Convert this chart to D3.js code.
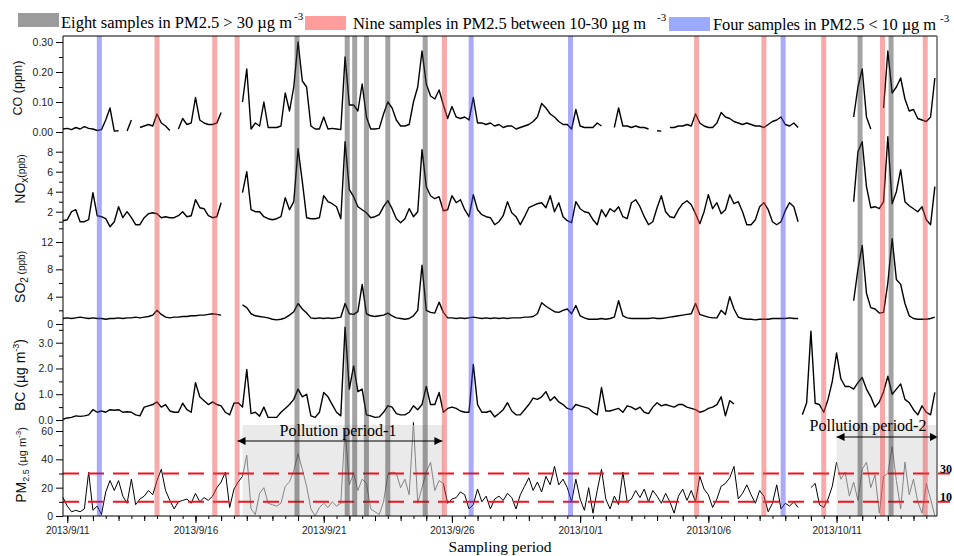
<!DOCTYPE html>
<html>
<head>
<meta charset="utf-8">
<script src="https://cdn.jsdelivr.net/npm/d3@7"></script>
<style>
  body { margin: 0; background: #fff; }
  svg { display: block; }
</style>
</head>
<body>
<svg id="chart" width="954" height="556"></svg>
<script>
// series sampled every 4 hours, starting 2013/9/10 20:00 (null = no data)
const startTime = new Date(2013, 8, 10, 20)
const stepHours = 4

const coValues = [
  0.01, 0.012, 0.008, 0.015, 0.01, 0.018, 0.012, 0.01, 0.005, 0.008,
  0.04, 0.08, 0.003, 0.004, null, 0.003, 0.04, null, 0.015, 0.02,
  0.025, 0.02, 0.06, 0.03, 0.02, 0.005, null, 0.01, 0.045, 0.025,
  0.03, 0.115, 0.04, 0.03, 0.025, 0.025, 0.03, 0.065, null, null,
  null, null, 0.1, 0.21, 0.01, 0.03, 0.02, 0.1, 0.015, 0.015,
  0.015, 0.02, 0.13, 0.07, 0.15, 0.3, 0.17, 0.15, 0.02, 0.01,
  0.01, 0.05, 0.01, 0.012, 0.01, 0.008, 0.25, 0.09, 0.09, 0.07,
  0.16, 0.05, 0.01, 0.01, 0.012, 0.06, 0.1, 0.08, 0.04, 0.02,
  0.02, 0.025, 0.1, 0.15, 0.27, 0.16, 0.12, 0.11, 0.14, 0.09,
  0.045, 0.085, 0.05, 0.045, 0.05, 0.04, 0.115, 0.03, 0.03, 0.025,
  0.03, 0.02, 0.025, 0.015, 0.02, 0.02, 0.01, 0.015, 0.02, 0.025,
  0.035, 0.05, 0.095, 0.08, 0.06, 0.05, 0.035, 0.025, 0.025, 0.01,
  0.075, 0.02, 0.015, 0.015, 0.015, 0.03, 0.02, null, null, 0.015,
  0.08, 0.02, 0.02, 0.015, 0.02, 0.015, 0.015, 0.01, null, 0.004,
  0.003, null, 0.015, 0.015, 0.02, 0.02, 0.025, 0.02, 0.06, 0.03,
  0.02, 0.015, 0.015, 0.03, 0.065, 0.05, 0.045, 0.035, 0.03, 0.025,
  0.03, 0.025, 0.02, 0.02, 0.015, 0.025, 0.035, 0.04, 0.05, 0.025,
  0.02, 0.03, 0.015, null, null, null, null, null, null, null,
  null, null, null, null, null, 0.05, 0.15, 0.21, 0.05, 0.01,
  null, null, 0.08, 0.27, 0.13, 0.15, 0.18, 0.11, 0.07, 0.075,
  0.045, 0.04, 0.035, 0.05, 0.18
]

const noxValues = [
  1.1, 1.2, 2.0, 2.2, 1.0, 1.0, 1.2, 3.9, 1.6, 1.5,
  1.3, 0.5, 1.0, 2.5, 1.4, 2.0, 1.4, 0.7, 0.7, 1.4,
  1.8, 1.9, 1.8, 1.4, 1.5, 1.4, 1.4, 1.6, 2.0, 1.5,
  1.6, 3.2, 2.4, 2.3, 1.6, 1.4, 1.5, 2.9, null, null,
  null, null, 3.9, 6.0, 2.2, 2.0, 2.0, 1.5, 1.3, 1.2,
  1.3, 1.5, 3.4, 2.2, 3.0, 8.3, 5.0, 1.4, 1.3, 1.3,
  1.4, 3.6, 3.0, 2.8, 2.5, 1.3, 9.0, 4.2, 3.5, 2.5,
  2.2, 1.9, 1.4, 1.5, 1.7, 2.5, 3.1, 2.3, 1.3, 0.9,
  1.3, 2.3, 1.5, 2.0, 8.2, 4.5, 3.6, 3.3, 3.5, 2.1,
  2.2, 3.6, 2.9, 3.2, 2.2, 1.5, 3.7, 2.2, 1.7, 1.5,
  1.4, 0.7, 1.0, 1.6, 3.0, 1.9, 1.5, 0.7, 1.5, 2.4,
  2.6, 2.8, 2.9, 2.4, 3.6, 2.0, 2.9, 1.5, 1.1, 0.9,
  3.0, 2.3, 2.0, 1.9, 1.2, 0.7, 2.2, 1.5, 2.3, 2.0,
  2.5, 1.5, 1.3, 2.9, 3.2, 2.5, 1.5, 0.7, 1.0, 2.4,
  3.6, 2.0, 1.5, 1.4, 2.2, 2.8, 3.1, 2.7, 1.8, 0.8,
  2.0, 3.7, 2.3, 2.9, 1.8, 2.2, 3.7, 2.8, 3.0, 2.0,
  0.7, 0.7, 1.2, 2.5, 2.9, 2.2, 1.0, 0.7, 1.0, 2.1,
  2.9, 2.5, 1.0, null, null, null, null, null, null, null,
  null, null, null, null, null, 3.0, 8.0, 9.0, 4.5, 2.4,
  2.5, 2.3, 3.0, 9.5, 2.8, 4.0, 6.2, 3.0, 2.6, 2.3,
  2.0, 2.5, 1.2, 0.7, 4.5
]

const so2Values = [
  0.8, 0.9, 0.8, 0.9, 1.0, 0.9, 0.8, 0.9, 0.8, 0.8,
  0.7, 0.8, 0.8, 0.9, 0.8, 0.9, 0.9, 1.0, 0.9, 1.0,
  1.1, 1.3, 2.0, 1.4, 1.0, 0.9, 1.0, 1.0, 1.1, 1.1,
  1.2, 1.2, 1.3, 1.3, 1.4, 1.5, 1.4, 1.3, null, null,
  null, null, 2.8, 2.4, 1.5, 1.2, 1.1, 1.0, 0.9, 0.7,
  0.6, 0.7, 0.9, 1.3, 1.8, 3.0, 2.2, 1.6, 0.9, 0.8,
  0.9, 0.8, 0.9, 0.8, 0.9, 1.0, 3.0, 1.5, 1.4, 1.8,
  5.8, 1.5, 1.2, 1.1, 1.2, 1.3, 1.6, 1.2, 0.9, 0.8,
  0.7, 0.8, 1.2, 2.0, 8.6, 2.0, 1.7, 1.6, 3.2, 1.7,
  0.9, 0.9, 0.8, 0.9, 0.8, 0.9, 1.0, 0.9, 0.8, 0.9,
  0.8, 0.9, 0.8, 0.9, 0.8, 0.9, 0.9, 0.9, 1.0, 1.0,
  1.1, 1.5, 3.1, 2.6, 2.2, 1.8, 1.7, 2.0, 2.2, 1.5,
  2.7, 1.2, 0.9, 0.7, 0.7, 0.7, 0.8, 0.7, 0.8, 1.0,
  3.4, 1.2, 0.9, 0.8, 0.8, 0.8, 0.8, 0.8, 0.9, 0.8,
  0.8, 0.9, 1.0, 1.1, 1.2, 1.3, 1.4, 1.5, 3.0, 1.4,
  1.2, 1.0, 0.9, 0.9, 2.0, 1.4, 4.0, 2.2, 1.0, 0.8,
  0.7, 0.7, 0.6, 0.7, 0.7, 0.7, 0.8, 0.8, 0.8, 0.8,
  0.9, 0.8, 0.8, null, null, null, null, null, null, null,
  null, null, null, null, null, 3.4, 8.0, 11.5, 4.5, 2.4,
  2.2, 1.6, 1.7, 6.0, 12.5, 6.5, 5.8, 3.0, 1.2, 0.8,
  0.7, 0.7, 0.7, 0.8, 1.0
]

const bcValues = [
  0.03, 0.08, 0.1, 0.16, 0.14, 0.16, 0.2, 0.4, 0.3, 0.35,
  0.3, 0.4, 0.38, 0.4, 0.3, 0.32, 0.3, 0.2, 0.16, 0.5,
  0.55, 0.6, 0.7, 0.5, 0.6, 0.35, 0.3, 0.3, 0.65, 0.4,
  0.3, 1.45, 0.9, 0.75, 0.6, 0.7, 0.6, 0.55, 0.3, 0.2,
  0.65, 0.67, 0.5, 1.96, 0.25, 0.3, 0.15, 0.5, 0.1, 0.1,
  0.1, 0.3, 0.45, 0.6, 0.8, 1.2, 0.9, 1.0, 0.16, 0.1,
  0.3, 1.07, 0.9, 0.6, 0.3, 0.16, 3.6, 1.2, 2.1, 1.1,
  1.2, 0.2, 0.16, 0.1, 0.12, 0.3, 0.55, 0.5, 0.25, 0.2,
  0.2, 0.3, 0.55, 0.4, 0.6, 1.3, 0.6, 0.6, 1.07, 0.3,
  0.45, 0.5, 0.45, 0.35, 0.3, 0.3, 2.16, 0.6, 0.3, 0.3,
  0.35, 0.12, 0.25, 0.4, 0.67, 0.35, 0.2, 0.2, 0.4, 0.6,
  0.85, 0.8, 0.9, 1.1, 0.75, 0.9, 0.7, 0.6, 0.45, 0.4,
  0.6, 0.55, 0.5, 0.45, 0.3, 0.2, 1.26, 0.35, 0.35, 0.4,
  0.45, 0.3, 0.55, 0.5, 0.4, 0.5, 0.3, 0.25, 0.5, 0.67,
  0.55, 0.6, 0.55, 0.5, 0.6, 0.6, 0.5, 0.45, 0.4, 0.3,
  0.35, 0.45, 0.5, 0.6, 0.9, 0.16, 0.75, 0.62, null, null,
  null, null, null, null, null, null, null, null, null, null,
  null, null, null, 0.2, 0.67, 3.45, 0.65, 0.6, 0.3, 0.8,
  1.5, 2.6, 1.6, 1.3, 1.3, 1.2, 1.45, 1.65, 1.2, 0.9,
  0.5, 0.7, 1.1, 1.7, 1.0, 1.2, 1.4, 0.8, 0.67, 0.4,
  0.2, 0.55, 0.3, 0.2, 1.07
]

const pmValues = [
  13, 7, 3, 4, 3, 5, 31, 4, 7, 1,
  17, 25, 18, 25, 14, 9, 26, 8, 12, 14,
  18, 15, 25, 33, 18, 11, 5, 10, 11, 12,
  9, 16, 10, 13, 11, 14, 20, 24, 31, 6,
  19, 24, 28, 43, 5, 1, 16, 20, 9, 8,
  7, 9, 21, 24, 32, 44, 33, 21, 5, 0,
  6, 9, 6, 10, 7, 9, 62, 22, 30, 18,
  26, 23, 5, 3, 1, 10, 29, 31, 30, 20,
  26, 15, 66, 9, 20, 31, 38, 18, 25, 23,
  9, 12, 13, 17, 15, 5, 8, 19, 10, 14,
  5, 12, 14, 11, 16, 13, 5, 15, 21, 27,
  18, 24, 17, 28, 22, 35, 22, 26, 20, 10,
  26, 12, 4, 20, 2, 18, 33, 12, 5, 14,
  8, 31, 10, 12, 18, 13, 19, 10, 18, 14,
  9, 16, 10, 2, 14, 19, 11, 18, 10, 28,
  19, 15, 6, 12, 21, 23, 27, 35, 12, 16,
  22, 15, 9, 18, 14, 3, 9, 22, 5, 9,
  7, 10, 6, null, null, 20, 23, 8, 6, 12,
  21, 38, 26, 31, 14, 24, 11, 33, 38, 20,
  29, 2, 28, 30, 49, 25, 5, 38, 15, 26,
  10, 2, 23, 12, 0
]

// highlighted sample times
const graySamples = ['2013-09-19T23:00', '2013-09-21T22:00', '2013-09-22T05:00', '2013-09-22T16:00',
  '2013-09-23T12:00', '2013-09-24T23:00', '2013-10-11T22:00', '2013-10-13T03:00']
const pinkSamples = ['2013-09-14T12:00', '2013-09-16T18:00', '2013-09-17T15:00', '2013-09-25T17:00',
  '2013-10-05T13:00', '2013-10-08T04:00', '2013-10-10T12:00', '2013-10-12T19:00', '2013-10-14T11:00']
const blueSamples = ['2013-09-12T06:00', '2013-09-26T18:00', '2013-09-30T15:00', '2013-10-08T22:00']

const periodNames = ['Pollution period-1', 'Pollution period-2']
const periodStarts = ['2013-09-17T20:00', '2013-10-11T00:00']
const periodEnds = ['2013-09-25T16:00', '2013-10-14T22:00']

const pmThresholds = [30, 10]
const xLabelDates = ['2013-09-11', '2013-09-16', '2013-09-21', '2013-09-26', '2013-10-01', '2013-10-06', '2013-10-11']

const parseTime = d3.timeParse('%Y-%m-%dT%H:%M')
const parseDay = d3.timeParse('%Y-%m-%d')

const sans = "'Liberation Sans', Arial, sans-serif"
const serif = "'Liberation Serif', 'Times New Roman', serif"

const svg = d3.select('#chart')
const plotLeft = 63, plotRight = 937, plotTop = 36, plotBottom = 516

const x = d3.scaleTime()
  .domain([new Date(2013, 8, 10, 20), new Date(2013, 9, 14, 22)])
  .range([plotLeft, plotRight])

const times = coValues.map((d, i) => d3.timeHour.offset(startTime, i * stepHours))

// one panel per species, stacked on the shared time axis
const panels = [
  {values: coValues, y: d3.scaleLinear().domain([0, 0.3]).range([132, 42]),
   major: [0, 0.1, 0.2, 0.3], minor: [0.05, 0.15, 0.25], fmt: d3.format('.2f')},
  {values: noxValues, y: d3.scaleLinear().domain([0, 8]).range([231.7, 151.7]),
   major: [2, 4, 6, 8], minor: [1, 3, 5, 7], fmt: d3.format('d')},
  {values: so2Values, y: d3.scaleLinear().domain([0, 12]).range([324, 242]),
   major: [0, 4, 8, 12], minor: [2, 6, 10, 14], fmt: d3.format('d')},
  {values: bcValues, y: d3.scaleLinear().domain([0, 3]).range([420, 342.7]),
   major: [0, 1, 2, 3], minor: [0.5, 1.5, 2.5, 3.5], fmt: d3.format('.1f')},
  {values: pmValues, y: d3.scaleLinear().domain([0, 60]).range([516, 431]),
   major: [0, 20, 40, 60], minor: [10, 30, 50], fmt: d3.format('d'), thin: true}
]

// series lines
panels.forEach(p => {
  const line = d3.line()
    .defined(d => d != null)
    .x((d, i) => x(times[i]))
    .y(d => p.y(d))
  svg.append('path')
    .datum(p.values)
    .attr('fill', 'none')
    .attr('stroke', '#000')
    .attr('stroke-width', p.thin ? 1 : 1.4)
    .attr('stroke-linejoin', 'round')
    .attr('d', line)
})

const pmY = panels[4].y

// pollution period shading, laid over the PM line so it greys it out
periodNames.forEach((name, i) => {
  const x0 = x(parseTime(periodStarts[i])), x1 = x(parseTime(periodEnds[i]))
  svg.append('rect')
    .attr('x', x0).attr('y', 425)
    .attr('width', x1 - x0).attr('height', plotBottom - 425)
    .attr('fill', '#dcdcdc')
    .attr('fill-opacity', 0.6)
})

// threshold lines
svg.selectAll('.threshold')
  .data(pmThresholds)
  .enter().append('line')
  .attr('class', 'threshold')
  .attr('x1', plotLeft).attr('x2', 950)
  .attr('y1', d => pmY(d)).attr('y2', d => pmY(d))
  .attr('stroke', '#f0141e')
  .attr('stroke-width', 2)
  .attr('stroke-dasharray', '16,9')

svg.selectAll('.threshold-label')
  .data(pmThresholds)
  .enter().append('text')
  .attr('x', 940)
  .attr('y', d => pmY(d) - 1)
  .attr('font-family', serif)
  .attr('font-weight', 'bold')
  .attr('font-size', 12)
  .text(d => d)

// sample bands over all panels
const bandGroups = [
  {times: graySamples, color: 'rgb(50,50,50)'},
  {times: pinkSamples, color: 'rgb(239,66,66)'},
  {times: blueSamples, color: 'rgb(66,66,243)'}
]
bandGroups.forEach(g => {
  svg.append('g').selectAll('rect')
    .data(g.times)
    .enter().append('rect')
    .attr('x', d => x(parseTime(d)) - 2.5)
    .attr('y', plotTop)
    .attr('width', 5)
    .attr('height', plotBottom - plotTop)
    .attr('fill', g.color)
    .attr('fill-opacity', 0.45)
})

// period arrows and labels
const defs = svg.append('defs')
defs.append('marker')
  .attr('id', 'head')
  .attr('viewBox', '0 0 10 10')
  .attr('refX', 10).attr('refY', 5)
  .attr('markerWidth', 10).attr('markerHeight', 8)
  .attr('markerUnits', 'userSpaceOnUse')
  .attr('orient', 'auto-start-reverse')
  .append('path')
  .attr('d', 'M0,0L10,5L0,10z')
  .attr('fill', '#000')

const arrowY = [441, 437]
const labelX = [338, 868]
const labelY = [436, 431]
periodNames.forEach((name, i) => {
  const x0 = x(parseTime(periodStarts[i])), x1 = x(parseTime(periodEnds[i]))
  svg.append('line')
    .attr('x1', i === 0 ? x0 - 5 : x0).attr('x2', i === 0 ? x1 - 1 : x1 + 1)
    .attr('y1', arrowY[i]).attr('y2', arrowY[i])
    .attr('stroke', '#000')
    .attr('stroke-width', 1)
    .attr('marker-start', 'url(#head)')
    .attr('marker-end', 'url(#head)')
  svg.append('text')
    .attr('x', labelX[i]).attr('y', labelY[i])
    .attr('text-anchor', 'middle')
    .attr('font-family', serif)
    .attr('font-size', 16)
    .text(name)
})

// frame
svg.append('line').attr('x1', plotLeft).attr('x2', plotRight).attr('y1', plotTop).attr('y2', plotTop)
  .attr('stroke', '#000')
svg.append('line').attr('x1', plotRight).attr('x2', plotRight).attr('y1', plotTop).attr('y2', plotBottom)
  .attr('stroke', '#666').attr('stroke-width', 1.5)
svg.append('line').attr('x1', plotLeft).attr('x2', plotLeft).attr('y1', plotTop).attr('y2', plotBottom)
  .attr('stroke', '#000')

// y axes
panels.forEach(p => {
  svg.append('g')
    .attr('transform', `translate(${plotLeft},0)`)
    .call(d3.axisLeft(p.y).tickValues(p.major).tickFormat(p.fmt).tickSize(7).tickPadding(3))
    .call(g => g.select('.domain').remove())
    .call(g => g.selectAll('text').attr('font-family', sans).attr('font-size', 10.5).attr('fill', '#222'))
  svg.append('g')
    .attr('transform', `translate(${plotLeft},0)`)
    .call(d3.axisLeft(p.y).tickValues(p.minor).tickFormat('').tickSize(4))
    .call(g => g.select('.domain').remove())
})

// x axis
const xMajor = xLabelDates.map(parseDay)
svg.append('g')
  .attr('transform', `translate(0,${plotBottom})`)
  .call(d3.axisBottom(x).tickValues(xMajor).tickFormat(d3.timeFormat('%Y/%-m/%-d')).tickSize(7).tickSizeOuter(0).tickPadding(4))
  .call(g => g.select('.domain').attr('d', `M${plotLeft},0H${plotRight}`))
  .call(g => g.selectAll('text').attr('font-family', sans).attr('font-size', 10).attr('fill', '#222'))
svg.append('g')
  .attr('transform', `translate(0,${plotBottom})`)
  .call(d3.axisBottom(x).ticks(d3.timeDay.every(1)).tickFormat('').tickSize(5))
  .call(g => g.select('.domain').remove())
svg.append('g')
  .attr('transform', `translate(0,${plotBottom})`)
  .call(d3.axisBottom(x).ticks(d3.timeHour.every(12)).tickFormat('').tickSize(3))
  .call(g => g.select('.domain').remove())

svg.append('text')
  .attr('x', 500).attr('y', 552)
  .attr('text-anchor', 'middle')
  .attr('font-family', serif)
  .attr('font-size', 15.5)
  .text('Sampling period')

// y titles, built from pieces: [text, size, dy]
function yTitle(cx, cy, parts) {
  const t = svg.append('text')
    .attr('transform', `translate(${cx},${cy}) rotate(-90)`)
    .attr('text-anchor', 'middle')
    .attr('font-family', sans)
    .attr('fill', '#111')
  parts.forEach(([s, size, dy]) => {
    t.append('tspan').attr('font-size', size).attr('dy', dy || 0).text(s)
  })
}
yTitle(22, 88, [['CO (ppm)', 12.5]])
yTitle(25, 179, [['NO', 14], ['x', 10, 3], ['(ppb)', 10, -3]])
yTitle(25, 277, [['SO', 14], ['2', 10, 3], [' (ppb)', 10, -3]])
yTitle(25, 375, [['BC (µg m', 14], ['-3', 9, -6], [')', 14, 6]])
yTitle(26, 465, [['PM', 14], ['2.5', 9, 3], [' (µg m', 11, -3], ['-3', 8, -5], [')', 11, 5]])

// legend
const legendColors = ['#9b9b9b', '#ff9d9d', '#9ba9ff']
const legendLabels = ['Eight samples in PM2.5 > 30 µg m', 'Nine samples in PM2.5 between 10-30 µg m',
  'Four samples in PM2.5 < 10 µg m']
const swatchX = [18, 305, 669]
const swatchY = [13, 16, 17]
const textX = [61, 353, 713]
const textY = [28, 29, 30]
const textLen = [231, 293, 223]
const supX = [294, 657, 940]

legendLabels.forEach((label, i) => {
  svg.append('rect')
    .attr('x', swatchX[i]).attr('y', swatchY[i])
    .attr('width', 41).attr('height', 14)
    .attr('fill', legendColors[i])
  svg.append('text')
    .attr('x', textX[i]).attr('y', textY[i])
    .attr('font-family', serif)
    .attr('font-size', 16.5)
    .attr('textLength', textLen[i])
    .attr('lengthAdjust', 'spacing')
    .text(label)
  svg.append('text')
    .attr('x', supX[i]).attr('y', textY[i] - 8)
    .attr('font-family', serif)
    .attr('font-size', 11)
    .text('-3')
})
</script>
</body>
</html>
